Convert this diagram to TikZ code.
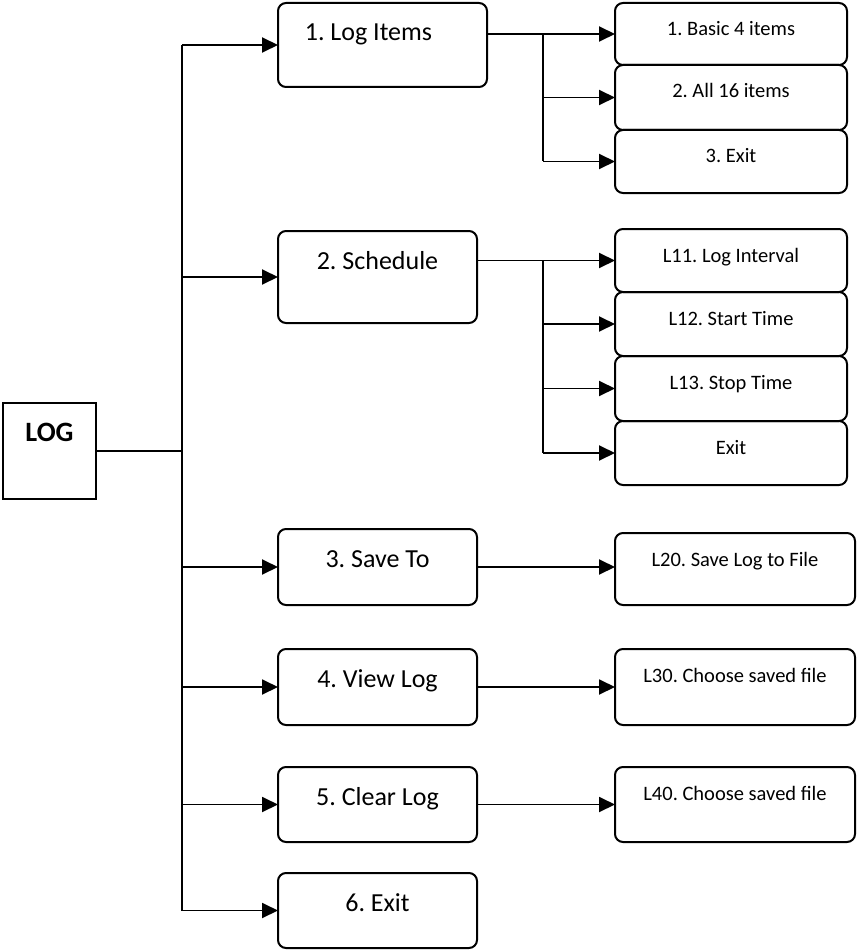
\documentclass[tikz,border=0pt]{standalone}
\usepackage{fontspec}
\setmainfont{Carlito}
\frenchspacing
\usetikzlibrary{fit}
\usetikzlibrary{arrows.meta}

\begin{document}
\begin{tikzpicture}[
  x=1pt, y=-1pt,
  menubox/.style={draw, rectangle, rounded corners=8pt, line width=2pt},
  rootbox/.style={draw, rectangle, line width=2pt},
  menutext/.style={anchor=base, yshift=-38pt, font=\fontsize{26}{31}\selectfont},
  subtext/.style={anchor=base, yshift=-33pt, font=\fontsize{20.5}{25}\selectfont},
  arr/.style={line width=1.9pt, -{Triangle[length=16pt, width=15pt]}},
  spine/.style={line width=1.9pt},
  link/.style={line width=1.4pt},
]

\useasboundingbox (0,0) rectangle (857,952);

\begin{scope}[inner sep=0pt, outer sep=0pt]
  \node (log) [rootbox, fit={(3,403) (96,499)}, label={[menutext, font=\fontsize{28}{33}\selectfont\bfseries]north:{LOG}}] {};
  \node (m1) [menubox, fit={(278,3) (487,87)}, label={[menutext, xshift=-14pt]north:{1. Log Items}}] {};
  \node (m2) [menubox, fit={(278,231) (477,323)}, label={[menutext]north:{2. Schedule}}] {};
  \node (m3) [menubox, fit={(278,529) (477,605)}, label={[menutext]north:{3. Save To}}] {};
  \node (m4) [menubox, fit={(278,649) (477,725)}, label={[menutext]north:{4. View Log}}] {};
  \node (m5) [menubox, fit={(278,767) (477,842)}, label={[menutext]north:{5. Clear Log}}] {};
  \node (m6) [menubox, fit={(278,873) (477,948)}, label={[menutext]north:{6. Exit}}] {};
\end{scope}

\begin{scope}[inner sep=0pt, outer sep=0pt]
  \node (s11) [menubox, fit={(615,3) (847,65)}, label={[subtext]north:{1. Basic 4 items}}] {};
  \node (s12) [menubox, fit={(615,65) (847,130)}, label={[subtext]north:{2. All 16 items}}] {};
  \node (s13) [menubox, fit={(615,130) (847,193)}, label={[subtext]north:{3. Exit}}] {};
  \node (s21) [menubox, fit={(615,229) (847,292)}, label={[subtext]north:{L11. Log Interval}}] {};
  \node (s22) [menubox, fit={(615,292) (847,356)}, label={[subtext]north:{L12. Start Time}}] {};
  \node (s23) [menubox, fit={(615,356) (847,421)}, label={[subtext]north:{L13. Stop Time}}] {};
  \node (s24) [menubox, fit={(615,421) (847,485)}, label={[subtext]north:{Exit}}] {};
  \node (s3) [menubox, fit={(615,533) (855,605)}, label={[subtext]north:{L20. Save Log to File}}] {};
  \node (s4) [menubox, fit={(615,649) (855,725)}, label={[subtext]north:{L30. Choose saved file}}] {};
  \node (s5) [menubox, fit={(615,767) (855,842)}, label={[subtext]north:{L40. Choose saved file}}] {};
\end{scope}

\coordinate (bus) at (182,451);
\coordinate (split) at (543,0);

% root to main menu
\draw[link] (log) -- (bus);
\draw[spine] (bus |- m1.west) -- (bus |- m6.west);
\foreach \i in {1,...,6} {
  \draw[arr] (bus |- m\i.west) -- (m\i.west);
}

% log items
\draw[link] (m1.east |- s11.west) -- (split |- s11.west);
\draw[spine] (split |- s11.west) -- (split |- s13.west);
\foreach \k in {1,2,3} {
  \draw[arr] (split |- s1\k.west) -- (s1\k.west);
}

% schedule
\draw[link] (m2.east |- s21.west) -- (split |- s21.west);
\draw[spine] (split |- s21.west) -- (split |- s24.west);
\foreach \k in {1,...,4} {
  \draw[arr] (split |- s2\k.west) -- (s2\k.west);
}

% single children
\foreach \i in {3,4,5} {
  \draw[arr] (m\i.east) -- (s\i.west |- m\i.east);
}

\end{tikzpicture}
\end{document}
